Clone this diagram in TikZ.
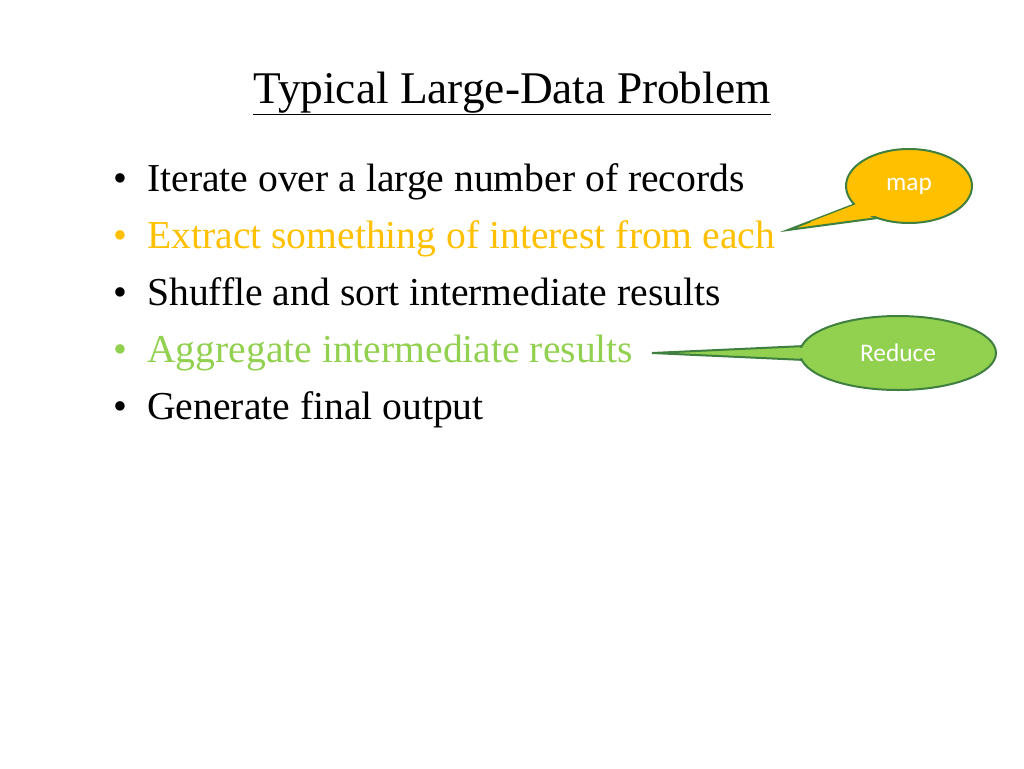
\documentclass[tikz,border=0pt]{standalone}
\usepackage{fontspec}
\setmainfont{Liberation Serif}
\newfontfamily\calib{Carlito}
\definecolor{mapc}{HTML}{FFC000}
\definecolor{redc}{HTML}{92D050}
\definecolor{edgec}{HTML}{3F7F3F}
\begin{document}
\begin{tikzpicture}[x=0.75pt,y=-0.75pt,
  bul/.style={anchor=base west,inner sep=0pt,font=\fontsize{29.7}{34}\selectfont},
  ctext/.style={text=white,font=\calib\fontsize{19}{22}\selectfont},
  cedge/.style={draw=edgec,line width=1.5pt}]
\useasboundingbox (0,0) rectangle (1024,768);
\node[inner sep=0pt,anchor=base,font=\fontsize{34}{40}\selectfont] (title) at (512,103) {\underline{Typical Large-Data Problem}};
\foreach \t/\c/\y/\n in {Iterate over a large number of records/black/191/b1,
  Extract something of interest from each/mapc/248/b2,
  Shuffle and sort intermediate results/black/305/b3,
  Aggregate intermediate results/redc/362/b4,
  Generate final output/black/419/b5}{
  \node[bul,text=\c] (\n) at (147,\y) {\t};
  \node[bul,text=\c,anchor=base] (\n d) at (120,\y) {\textbullet};
}
% map callout
\coordinate (mtip) at (788,230);
\draw[cedge,fill=mapc] (854,204.5) -- (mtip) -- (877.5,218) -- cycle;
\draw[cedge,fill=mapc] (909,186) ellipse [x radius=63,y radius=37];
\fill[mapc] (856.5,204) -- (810,222) -- (876,215.5) -- cycle;
\node[ctext] (map) at (909,186) {map};
% reduce callout
\coordinate (rtip) at (652,353);
\draw[cedge,fill=redc] (805,346) -- (rtip) -- (805,360) -- cycle;
\draw[cedge,fill=redc] (898,353) ellipse [x radius=98,y radius=37];
\fill[redc] (808,347.5) -- (700,353) -- (808,358.5) -- cycle;
\node[ctext] (reduce) at (898,353) {Reduce};
\end{tikzpicture}
\end{document}
